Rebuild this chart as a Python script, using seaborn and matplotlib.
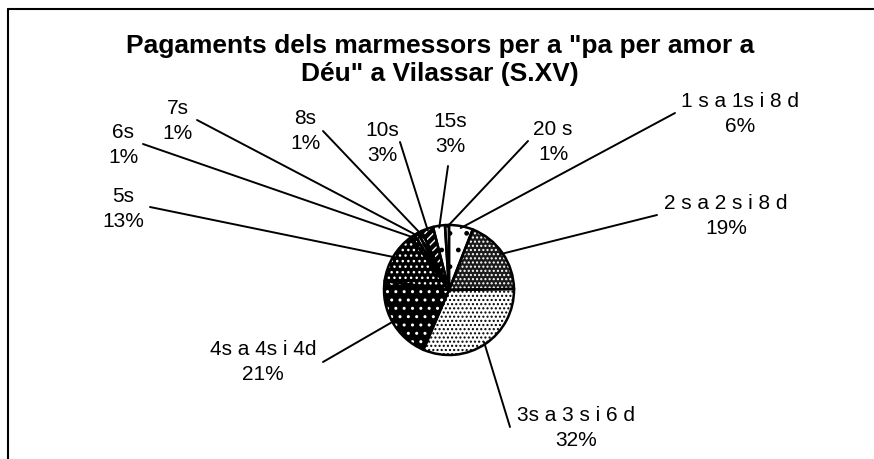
import matplotlib
matplotlib.use("Agg")
import matplotlib.pyplot as plt
import seaborn as sns
import numpy as np

sns.set_theme(style="white")
plt.rcParams['font.family'] = ['Liberation Sans', 'DejaVu Sans']
plt.rcParams['hatch.linewidth'] = 1.0
plt.rcParams['text.color'] = 'black'

# ---- data ----
categories = ["1 s a 1s i 8 d", "2 s a 2 s i 8 d", "3s a 3 s i 6 d", "4s a 4s i 4d",
              "5s", "6s", "7s", "8s", "10s", "15s", "20 s"]
percentages = [6, 19, 32, 21, 13, 1, 1, 1, 3, 3, 1]
title = "Pagaments dels marmessors per a \"pa per amor a\nDéu\" a Vilassar (S.XV)"

# ---- styles / layout ----
W, H = 874, 460
face_colors = ["white", "#1a1a1a", "white", "black", "black", "black", "white", "black",
               "black", "white", "white"]
hatch_colors = ["black", "white", "black", "white", "white", "white", "black", "white",
                "white", "black", "black"]
hatches = [".", "....", "....", "..", "...", "////", "||||", "\\\\\\\\", "////", ".", ""]
# label text centres (pixel coords, y from top) and leader-line anchor points
label_pos = [(740, 114), (726, 216), (576, 428), (263, 362), (123, 209), (123, 145),
             (178, 121), (305, 131), (382, 143), (450, 134), (553, 142)]
line_anchor = [(675, 114), (657, 216), (510, 428), (323, 363), (150, 208), (143, 145),
               (197, 121), (323, 132), (400, 143), (448, 167), (528, 142)]
pie_center_px = (449, 291)
pie_radius = 65

fig = plt.figure(figsize=(W / 100, H / 100), dpi=100)
ax = fig.add_axes([0, 0, 1, 1])

cx, cy = pie_center_px[0], H - pie_center_px[1]

# base fill
wedges, _ = ax.pie(percentages, startangle=90, counterclock=False,
                   colors=face_colors, center=(cx, cy), radius=pie_radius,
                   wedgeprops=dict(linewidth=0))
# hatch overlay
hw, _ = ax.pie(percentages, startangle=90, counterclock=False,
               center=(cx, cy), radius=pie_radius,
               wedgeprops=dict(linewidth=0, facecolor="none"))
for w, h, hc in zip(hw, hatches, hatch_colors):
    w.set_hatch(h)
    w.set_edgecolor(hc)
    w.set_linewidth(0)
# outlines
ow, _ = ax.pie(percentages, startangle=90, counterclock=False,
               center=(cx, cy), radius=pie_radius,
               wedgeprops=dict(linewidth=1.8, facecolor="none", edgecolor="black"))

# labels and leader lines
for w, cat, val, (lx, ly), (ax_, ay_) in zip(wedges, categories, percentages,
                                            label_pos, line_anchor):
    th = np.deg2rad((w.theta1 + w.theta2) / 2)
    ex = cx + pie_radius * 0.97 * np.cos(th)
    ey = cy + pie_radius * 0.97 * np.sin(th)
    ax.plot([ex, ax_], [ey, H - ay_], color="black", lw=1.4, solid_capstyle="round")
    ax.text(lx, H - ly, f"{cat}\n{val}%", ha="center", va="center",
            fontsize=15, linespacing=1.35, color="black")

ax.text(440, H - 60, title, ha="center", va="center", fontsize=19,
        fontweight="bold", linespacing=1.2, color="black")

# frame
ax.plot([8, W], [H - 10, H - 10], color="black", lw=1.5)
ax.plot([8, 8], [H - 10, 0], color="black", lw=1.5)

ax.set_xlim(0, W)
ax.set_ylim(0, H)
ax.set_aspect("auto")
ax.axis("off")

fig.savefig("out.png", dpi=100)
